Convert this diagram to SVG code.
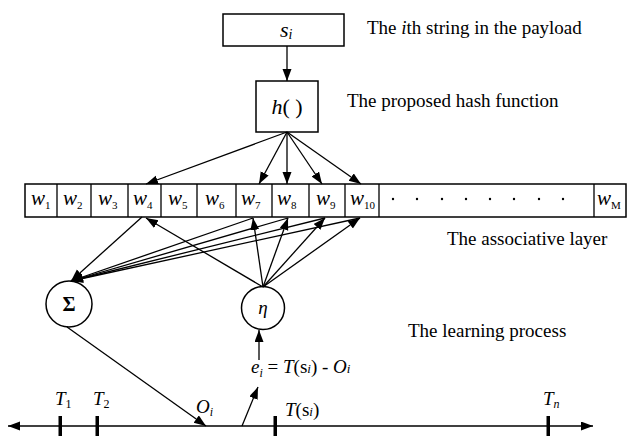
<svg xmlns="http://www.w3.org/2000/svg" width="627" height="436" viewBox="0 0 627 436">
<style>
.ln{stroke:#000;stroke-width:1.3;fill:none}
.bx{stroke:#000;stroke-width:1.5;fill:#fff}
text{font-family:'Liberation Serif','DejaVu Serif','Times New Roman',serif;fill:#000}
.lbl{font-size:19px}
.w{font-size:21px;font-style:italic}
.sub{font-size:11px;font-style:normal}
.tk{fill:#000}
</style>
<defs>
<marker id="ah" markerUnits="userSpaceOnUse" markerWidth="13" markerHeight="10" refX="12" refY="4.5" orient="auto-start-reverse">
<path d="M0,0 L12,4.5 L0,9 z" fill="#000"/>
</marker>
</defs>

<g id="node-si">
<rect class="bx" x="223" y="14" width="121" height="32"/>
<text x="280" y="37" font-size="22" font-style="italic">s<tspan font-size="14" dy="2">i</tspan></text>
</g>
<g id="node-h">
<rect class="bx" x="256" y="81" width="62" height="51"/>
<text x="287" y="114" font-size="22" text-anchor="middle"><tspan font-style="italic">h</tspan>( )</text>
</g>

<g id="node-layer">
<rect class="bx" x="25" y="184" width="601" height="33"/>
<path class="ln" d="M57,184V217M91,184V217M128,184V217M161,184V217M197,184V217M236,184V217M272,184V217M309,184V217M345,184V217M379,184V217M594,184V217"/>
<text class="w" x="31" y="205">w<tspan class="sub" dy="4">1</tspan></text>
<text class="w" x="63" y="205">w<tspan class="sub" dy="4">2</tspan></text>
<text class="w" x="98" y="205">w<tspan class="sub" dy="4">3</tspan></text>
<text class="w" x="133" y="205">w<tspan class="sub" dy="4">4</tspan></text>
<text class="w" x="168" y="205">w<tspan class="sub" dy="4">5</tspan></text>
<text class="w" x="205" y="205">w<tspan class="sub" dy="4">6</tspan></text>
<text class="w" x="241" y="205">w<tspan class="sub" dy="4">7</tspan></text>
<text class="w" x="277" y="205">w<tspan class="sub" dy="4">8</tspan></text>
<text class="w" x="316" y="205">w<tspan class="sub" dy="4">9</tspan></text>
<text class="w" x="350" y="205">w<tspan class="sub" dy="4">10</tspan></text>
<text class="w" x="597" y="205">w<tspan class="sub" dy="4" font-style="italic">M</tspan></text>
<g fill="#000">
<circle cx="393" cy="199" r="1.2"/><circle cx="417" cy="199" r="1.2"/><circle cx="442" cy="199" r="1.2"/><circle cx="466" cy="199" r="1.2"/>
<circle cx="490" cy="199" r="1.2"/><circle cx="514" cy="199" r="1.2"/><circle cx="539" cy="199" r="1.2"/><circle cx="563" cy="199" r="1.2"/>
</g>
</g>

<g id="node-sigma">
<circle class="bx" cx="69" cy="304" r="23"/>
<text x="69" y="311" font-size="20" font-weight="bold" text-anchor="middle">Σ</text>
</g>
<g id="node-eta">
<circle class="bx" cx="263" cy="308" r="21.5"/>
<text x="263" y="314" font-size="19" font-style="italic" text-anchor="middle">η</text>
</g>

<g id="connectors">
<line class="ln" x1="287" y1="46" x2="287" y2="81" marker-end="url(#ah)"/>
<line class="ln" x1="287" y1="132" x2="146" y2="184" marker-end="url(#ah)"/>
<line class="ln" x1="287" y1="132" x2="259" y2="184" marker-end="url(#ah)"/>
<line class="ln" x1="287" y1="132" x2="287" y2="184" marker-end="url(#ah)"/>
<line class="ln" x1="287" y1="132" x2="322" y2="184" marker-end="url(#ah)"/>
<line class="ln" x1="287" y1="132" x2="361" y2="184" marker-end="url(#ah)"/>

<line class="ln" x1="142" y1="217" x2="71" y2="281" marker-end="url(#ah)"/>
<line class="ln" x1="253" y1="218" x2="71" y2="281" marker-end="url(#ah)"/>
<line class="ln" x1="288" y1="218" x2="71" y2="281" marker-end="url(#ah)"/>
<line class="ln" x1="325" y1="218" x2="71" y2="281" marker-end="url(#ah)"/>
<line class="ln" x1="360" y1="218" x2="71" y2="281" marker-end="url(#ah)"/>

<line class="ln" x1="263" y1="287" x2="146" y2="218" marker-end="url(#ah)"/>
<line class="ln" x1="263" y1="287" x2="253" y2="218" marker-end="url(#ah)"/>
<line class="ln" x1="263" y1="287" x2="288" y2="218" marker-end="url(#ah)"/>
<line class="ln" x1="263" y1="287" x2="325" y2="218" marker-end="url(#ah)"/>
<line class="ln" x1="263" y1="287" x2="360" y2="218" marker-end="url(#ah)"/>

<line class="ln" x1="67" y1="327" x2="206" y2="426" marker-end="url(#ah)"/>
<line class="ln" x1="259" y1="360" x2="259" y2="330" marker-end="url(#ah)"/>
<line class="ln" x1="242" y1="426" x2="258" y2="387" marker-end="url(#ah)"/>
<line class="ln" x1="8" y1="426" x2="593" y2="426" stroke-width="1.6" marker-start="url(#ah)" marker-end="url(#ah)"/>
</g>

<g id="timeline">
<rect class="tk" x="58.5" y="416" width="3.5" height="20"/>
<rect class="tk" x="95.5" y="416" width="3.5" height="20"/>
<rect class="tk" x="273.5" y="416" width="3.5" height="20"/>
<rect class="tk" x="546.5" y="416" width="3.5" height="20"/>
<text x="55" y="405" font-size="19" font-style="italic">T<tspan font-size="12" font-style="normal" dy="3">1</tspan></text>
<text x="93" y="405" font-size="19" font-style="italic">T<tspan font-size="12" font-style="normal" dy="3">2</tspan></text>
<text x="196" y="413" font-size="19" font-style="italic">O<tspan font-size="12" dy="3">i</tspan></text>
<text x="285" y="416" font-size="19"><tspan font-style="italic">T</tspan>(s<tspan font-size="13" font-style="italic">i</tspan>)</text>
<text x="543" y="405" font-size="19" font-style="italic">T<tspan font-size="12" dy="3">n</tspan></text>
<text x="251" y="373" font-size="19"><tspan font-style="italic">e</tspan><tspan font-size="12" font-style="italic" dy="4">i</tspan><tspan dy="-4"> = </tspan><tspan font-style="italic">T</tspan>(s<tspan font-size="13" font-style="italic">i</tspan>) - <tspan font-style="italic">O</tspan><tspan font-size="13" font-style="italic">i</tspan></text>
</g>

<g id="labels">
<text class="lbl" x="367" y="34">The <tspan font-style="italic">i</tspan>th string in the payload</text>
<text class="lbl" x="347" y="107">The proposed hash function</text>
<text class="lbl" x="447" y="245">The associative layer</text>
<text class="lbl" x="408" y="337">The learning process</text>
</g>
</svg>
